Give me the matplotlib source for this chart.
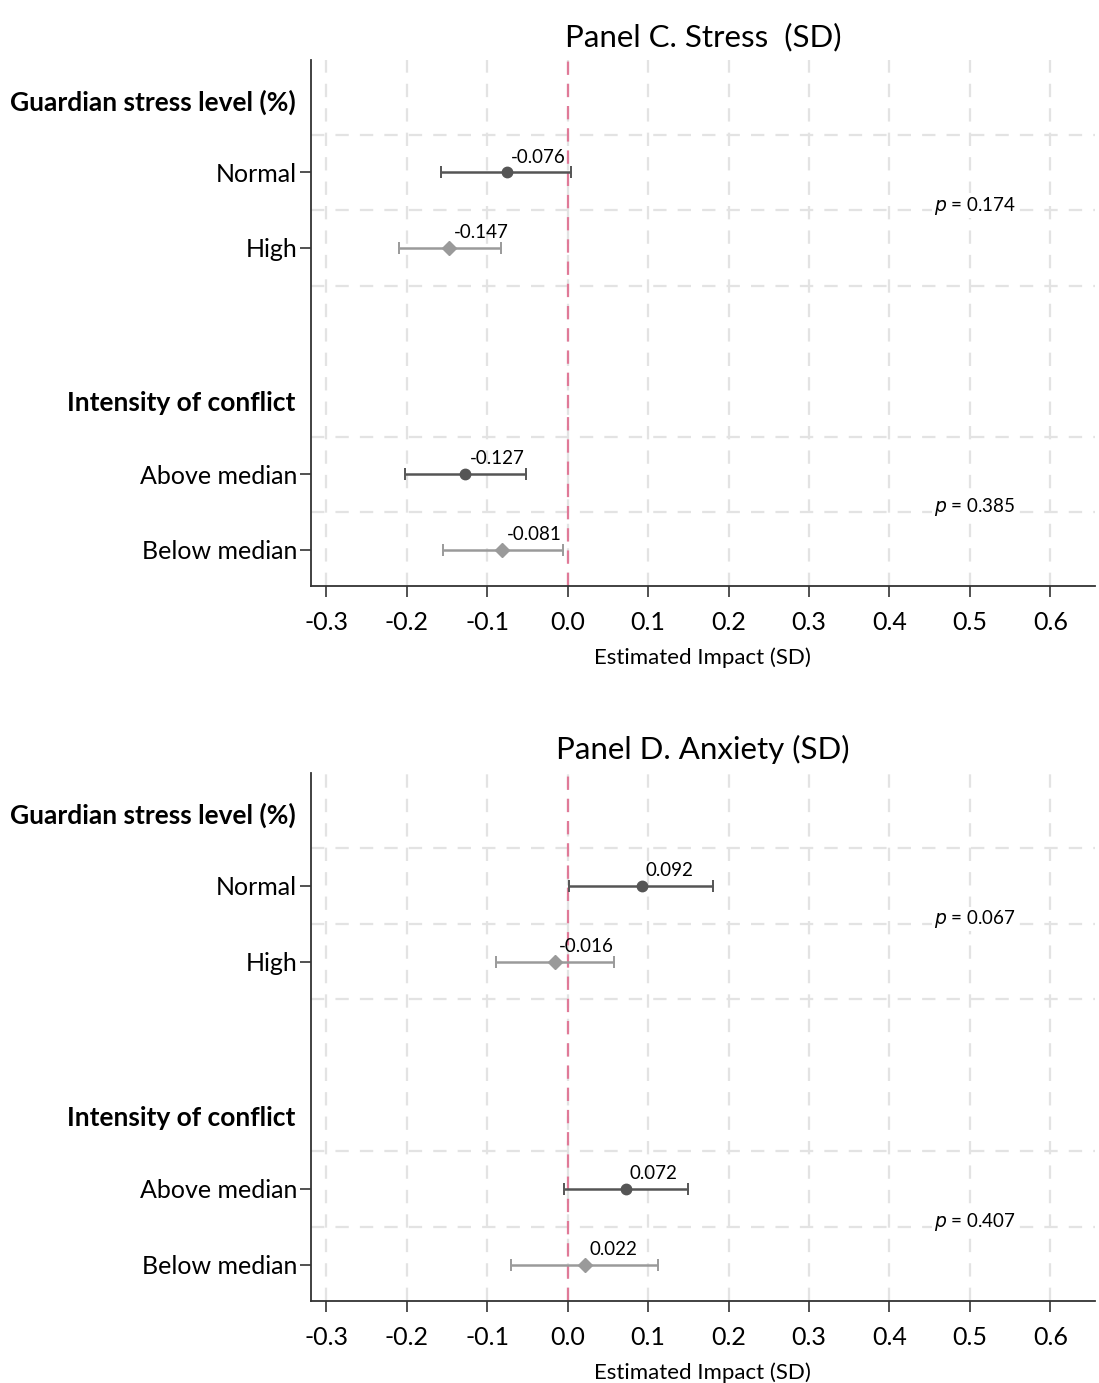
import matplotlib.pyplot as plt

plt.rcParams['font.family'] = ['Lato', 'DejaVu Sans']

# Data
row_labels = ["Normal", "High", "Above median", "Below median"]
row_pos = [0, 1, 4, 5]
headers = ["Guardian stress level (%)", "Intensity of conflict"]
header_pos = [-0.93, 3.06]

stress_est = [-0.076, -0.147, -0.127, -0.081]
stress_lo = [-0.157, -0.210, -0.202, -0.155]
stress_hi = [0.004, -0.083, -0.052, -0.006]
stress_p = ["0.174", "0.385"]

anx_est = [0.092, -0.016, 0.072, 0.022]
anx_lo = [0.002, -0.089, -0.005, -0.070]
anx_hi = [0.181, 0.057, 0.150, 0.112]
anx_p = ["0.067", "0.407"]

p_pos = [0.5, 4.5]
grid_y = [-0.5, 0.5, 1.5, 3.5, 4.5]
xticks = [-0.3, -0.2, -0.1, 0.0, 0.1, 0.2, 0.3, 0.4, 0.5, 0.6]

dark = "#555555"
light = "#9a9a9a"
grid_c = "#e3e3e3"

fig = plt.figure(figsize=(10.99, 13.83), dpi=100)
ax1 = fig.add_axes([0.283, 0.5763, 0.713, 0.3803])
ax2 = fig.add_axes([0.283, 0.0593, 0.713, 0.3818])


def draw_panel(ax, title, est, lo, hi, pvals):
    for x in xticks:
        ax.axvline(x, color=grid_c, lw=1.6, ls=(0, (6, 5)), zorder=0)
    for y in grid_y:
        ax.axhline(y, color=grid_c, lw=1.6, ls=(0, (6, 5)), zorder=0)
    ax.axvline(0, color="#e07a98", lw=1.6, ls=(0, (6, 4)), zorder=1)

    for i in range(len(est)):
        col = dark if i % 2 == 0 else light
        mk = "o" if i % 2 == 0 else "D"
        ms = 7.5 if i % 2 == 0 else 7.5
        y = row_pos[i]
        ax.errorbar(est[i], y, xerr=[[est[i] - lo[i]], [hi[i] - est[i]]],
                    fmt=mk, color=col, ms=ms, elinewidth=1.8, capsize=4,
                    capthick=1.4, zorder=3)
        ax.annotate(f"{est[i]:.3f}", (est[i], y), xytext=(3, 5),
                    textcoords="offset points", ha="left", va="bottom",
                    fontsize=13.5)

    for p, y in zip(pvals, p_pos):
        ax.text(0.455, y - 0.06, "$p$ = " + p, fontsize=13.5, ha="left", va="center",
                bbox=dict(facecolor="white", edgecolor="none", pad=1), zorder=2)

    ax.set_xlim(-0.319, 0.655)
    ax.set_ylim(5.48, -1.49)
    ax.set_xticks(xticks)
    ax.set_xticklabels([f"{x:.1f}" for x in xticks], fontsize=18)
    ax.set_yticks(row_pos)
    ax.set_yticklabels(row_labels, fontsize=18)
    ax.tick_params(axis="both", length=8, width=1.2, color="#333333")
    ax.tick_params(axis="x", pad=10)
    ax.tick_params(axis="y", pad=2)
    for h, y in zip(headers, header_pos):
        ax.text(-0.02, y, h, transform=ax.get_yaxis_transform(), ha="right",
                va="center", fontsize=19, fontweight="bold")
    for s in ["top", "right"]:
        ax.spines[s].set_visible(False)
    for s in ["left", "bottom"]:
        ax.spines[s].set_linewidth(1.3)
        ax.spines[s].set_color("#333333")
    ax.set_title(title, fontsize=22.5, pad=10)
    ax.set_xlabel("Estimated Impact (SD)", fontsize=16, labelpad=10)


draw_panel(ax1, "Panel C. Stress  (SD)", stress_est, stress_lo, stress_hi, stress_p)
draw_panel(ax2, "Panel D. Anxiety (SD)", anx_est, anx_lo, anx_hi, anx_p)

fig.savefig("out.png", dpi=100)
